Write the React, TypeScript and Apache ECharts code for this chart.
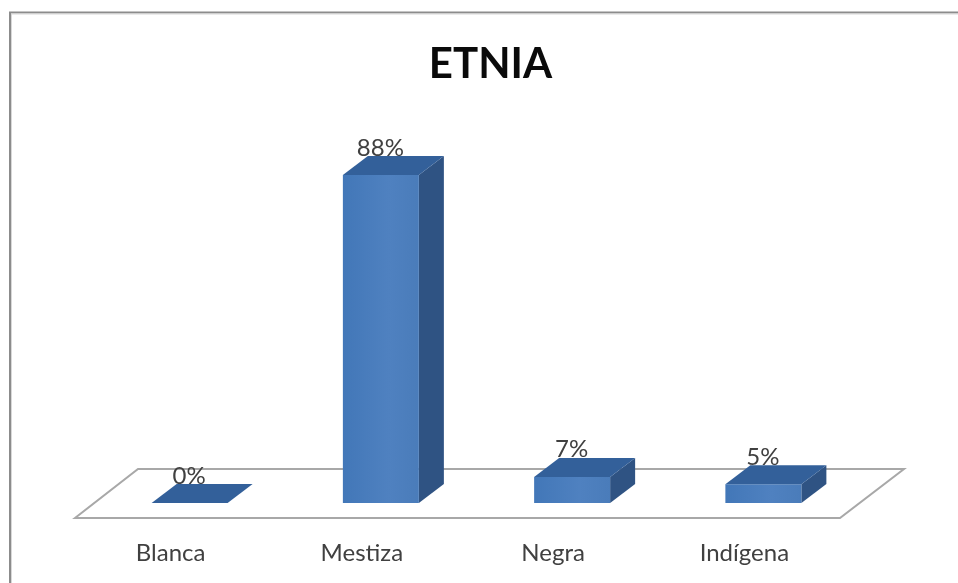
import React, { useEffect, useRef } from "react";
import * as echarts from "echarts";

const categories = ["Blanca", "Mestiza", "Negra", "Indígena"];
const values = [0, 88, 7, 5];
const titleText = "ETNIA";

const W = 958;
const H = 583;
const DEPTH_SHIFT_X = 19;
const DEPTH_SHIFT_Y = 15;
const BAR_W = 76;
const DX = 25;
const DY = 19;
const FONT = 'Lato, "Open Sans", sans-serif';

function renderFloor(params: any, api: any) {
  if (params.dataIndex !== 0) return { type: "group", children: [] };
  const c = params.coordSys;
  const bottom = c.y + c.height;
  return {
    type: "polygon",
    silent: true,
    shape: {
      points: [
        [c.x, bottom],
        [c.x + 63, bottom - 49],
        [c.x + c.width + 64, bottom - 49],
        [c.x + c.width, bottom],
      ],
    },
    style: { fill: "#ffffff", stroke: "#a8a8a8", lineWidth: 2 },
  };
}

function renderBar(params: any, api: any) {
  const i = api.value(0);
  const v = api.value(1);
  const base = api.coord([i, 0]);
  const top = api.coord([i, v]);
  const xL = base[0] + DEPTH_SHIFT_X - BAR_W / 2;
  const xR = xL + BAR_W;
  const yB = base[1] - DEPTH_SHIFT_Y;
  const yT = top[1] - DEPTH_SHIFT_Y;
  const children: any[] = [];
  if (v > 0) {
    children.push({
      type: "polygon",
      shape: { points: [[xR, yT], [xR + DX, yT - DY], [xR + DX, yB - DY], [xR, yB]] },
      style: { fill: "#2f5383" },
    });
    children.push({
      type: "rect",
      shape: { x: xL, y: yT, width: BAR_W, height: yB - yT },
      style: {
        fill: new echarts.graphic.LinearGradient(0, 0, 1, 0, [
          { offset: 0, color: "#4277b8" },
          { offset: 0.6, color: "#4f81c0" },
          { offset: 1, color: "#4a7cba" },
        ]),
      },
    });
  }
  children.push({
    type: "polygon",
    shape: { points: [[xL, yT], [xL + DX, yT - DY], [xR + DX, yT - DY], [xR, yT]] },
    style: { fill: "#33609a" },
  });
  children.push({
    type: "text",
    style: {
      x: xL + BAR_W / 2 - 0.5,
      y: yT - 29,
      text: `${v}%`,
      fill: "#404040",
      font: `24px ${FONT}`,
      align: "center",
      verticalAlign: "middle",
    },
    z2: 10,
  });
  return { type: "group", children };
}

export default function App() {
  const ref = useRef<HTMLDivElement>(null);
  useEffect(() => {
    document.body.style.margin = "0";
    const chart = echarts.init(ref.current!, undefined, { renderer: "svg" });
    chart.setOption({
      animation: false,
      backgroundColor: "#ffffff",
      title: {
        text: titleText,
        left: 485.5,
        top: 36,
        textAlign: "center",
        textStyle: { fontFamily: FONT, fontWeight: "bold", fontSize: 42, color: "#0a0a0a" },
      },
      graphic: [
        {
          type: "line",
          silent: true,
          shape: { x1: 9, y1: 12.5, x2: 958, y2: 12.5 },
          style: { stroke: "#8c8c8c", lineWidth: 2 },
        },
        {
          type: "line",
          silent: true,
          shape: { x1: 958, y1: 14, x2: 11, y2: 14 },
          style: { stroke: "#d8d8d8", lineWidth: 1 },
        },
        {
          type: "line",
          silent: true,
          shape: { x1: 10, y1: 12, x2: 10, y2: 583 },
          style: { stroke: "#8c8c8c", lineWidth: 2 },
        },
        {
          type: "line",
          silent: true,
          shape: { x1: 11.5, y1: 14, x2: 11.5, y2: 583 },
          style: { stroke: "#d8d8d8", lineWidth: 1 },
        },
      ],
      grid: { left: 75, width: 765, top: 145.3, height: 372.7, containLabel: false },
      xAxis: {
        type: "category",
        data: categories,
        axisLine: { show: false },
        axisTick: { show: false },
        splitLine: { show: false },
        axisLabel: {
          margin: 21,
          fontFamily: FONT,
          fontSize: 24,
          color: "#404040",
          interval: 0,
        },
      },
      yAxis: { type: "value", min: 0, max: 100, show: false, splitLine: { show: false } },
      series: [
        {
          type: "custom",
          coordinateSystem: "cartesian2d",
          renderItem: renderFloor,
          data: categories.map((_, i) => [i, 0]),
          z: 1,
          silent: true,
        },
        {
          type: "custom",
          coordinateSystem: "cartesian2d",
          renderItem: renderBar,
          encode: { x: 0, y: 1 },
          data: values.map((v, i) => [i, v]),
          clip: false,
          z: 2,
          silent: true,
        },
      ],
    });
    return () => chart.dispose();
  }, []);
  return <div ref={ref} style={{ width: W, height: H, filter: "blur(0.5px)" }} />;
}
